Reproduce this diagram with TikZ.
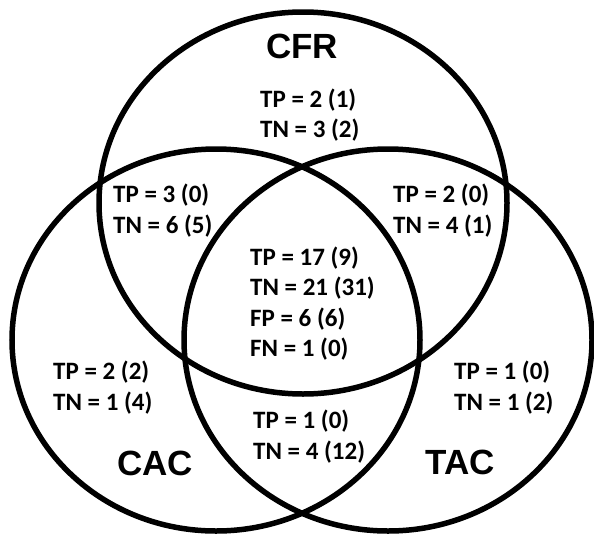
\documentclass[tikz,border=0pt]{standalone}
\usepackage{fontspec}
\setmainfont{Carlito}
\newfontfamily\setfont{Liberation Sans}
\usepackage{tikz}
\usepackage{tkz-euclide}

\begin{document}
\begin{tikzpicture}[x=1pt, y=-1pt,
                cnt/.style={align=left, anchor=west, inner sep=0pt, font=\fontsize{25}{30.5}\selectfont\bfseries},
                setname/.style={inner sep=0pt, font=\setfont\fontsize{35}{40}\selectfont\bfseries}]
                \useasboundingbox (0,0) rectangle (594,536);
                \tkzDefPoints{303/203/F, 216/340/C, 388/340/T}
                \draw[line width=5.5pt] (F) ellipse [x radius=204pt, y radius=191pt];
                \draw[line width=5.5pt] (C) ellipse [x radius=204pt, y radius=191pt];
                \draw[line width=5.5pt] (T) ellipse [x radius=204pt, y radius=191pt];
                \node[setname] (cfr) at (302,46) {CFR};
                \node[setname] (cac) at (155,463) {CAC};
                \node[setname] (tac) at (460,462) {TAC};
                \node[cnt] (onlyF) at (260,115) {TP = 2 (1)\\TN = 3 (2)};
                \node[cnt] (FC) at (113,210.5) {TP = 3 (0)\\TN = 6 (5)};
                \node[cnt] (FT) at (393,210.5) {TP = 2 (0)\\TN = 4 (1)};
                \node[cnt] (FCT) at (250,303.5) {TP = 17 (9)\\TN = 21 (31)\\FP = 6 (6)\\FN = 1 (0)};
                \node[cnt] (onlyC) at (53,387.5) {TP = 2 (2)\\TN = 1 (4)};
                \node[cnt] (CT) at (253,436.5) {TP = 1 (0)\\TN = 4 (12)};
                \node[cnt] (onlyT) at (454,387.5) {TP = 1 (0)\\TN = 1 (2)};
            \end{tikzpicture}
\end{document}
